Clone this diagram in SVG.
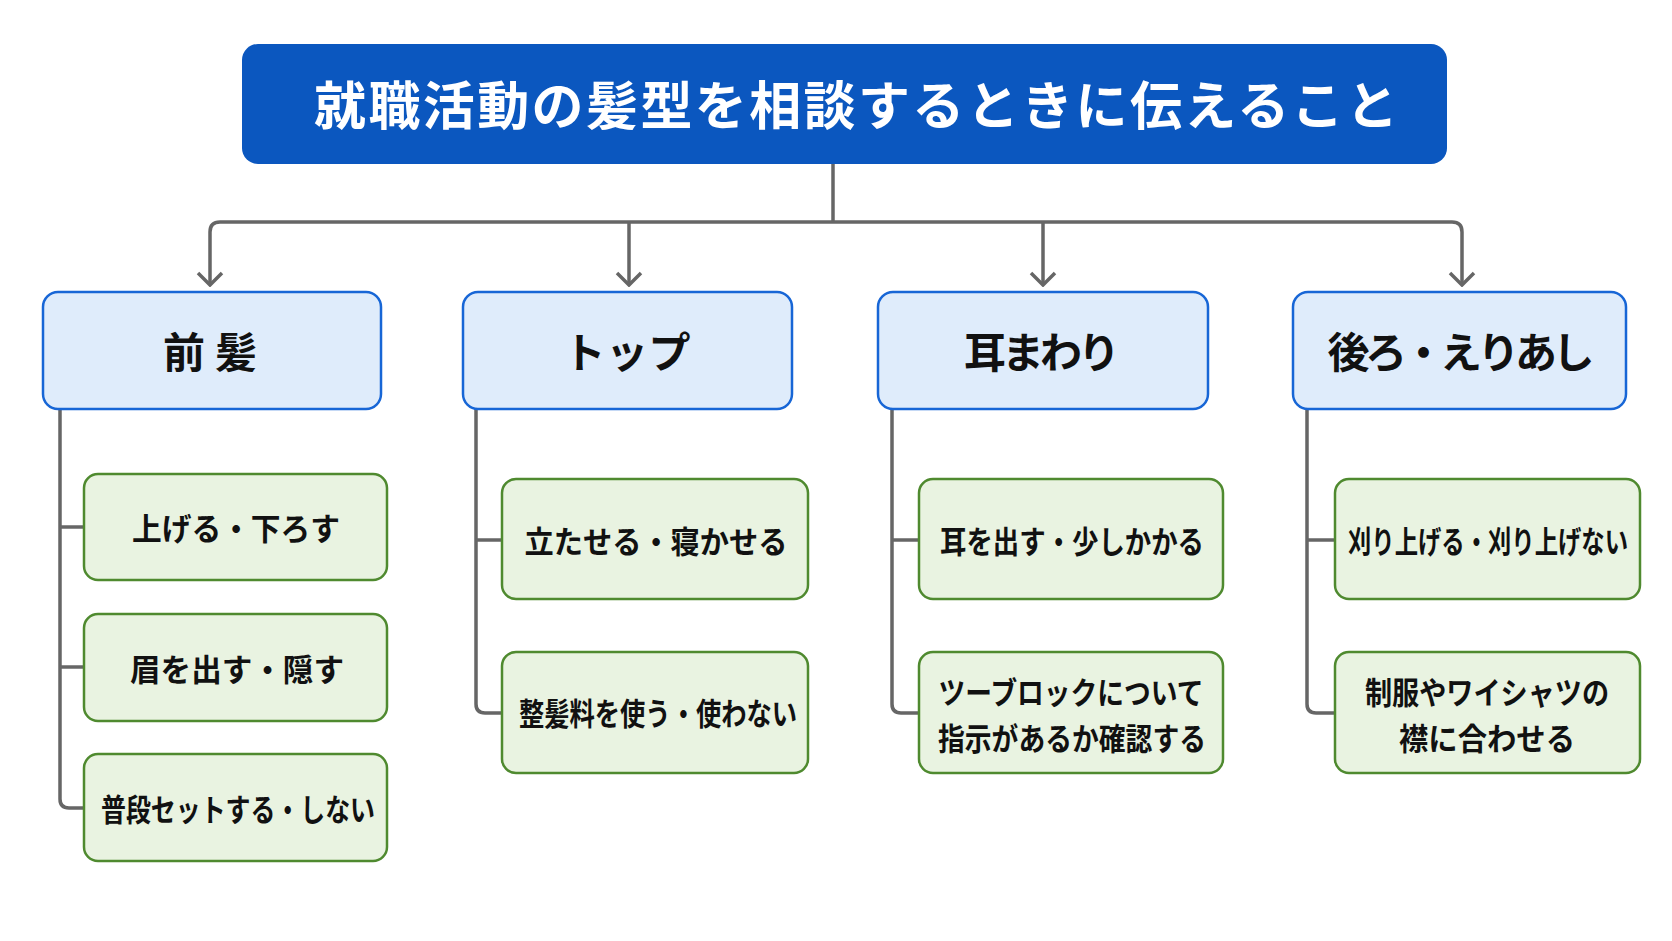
<svg xmlns="http://www.w3.org/2000/svg" width="1672" height="941" viewBox="0 0 1672 941">
<defs>
<style>
.title-box{fill:#0b57bf;}
.head-box{fill:#dfecfb;stroke:#1766d6;stroke-width:2.5;}
.item-box{fill:#e9f3e1;stroke:#4f8a2f;stroke-width:2.5;}
.conn{fill:none;stroke:#666666;stroke-width:3.5;stroke-linejoin:round;}
.t{font-family:"Noto Sans CJK JP","Noto Sans CJK SC",sans-serif;font-weight:700;text-anchor:middle;dominant-baseline:central;}
.title{fill:#ffffff;font-size:52px;}
.head{fill:#111111;font-size:42px;}
.item{fill:#111111;font-size:31px;}
</style>
<marker id="arr" viewBox="-2 -14 16 28" markerWidth="16" markerHeight="28" refX="12" refY="0" orient="auto" markerUnits="userSpaceOnUse">
<path d="M0,-12 L12,0 L0,12" fill="none" stroke="#666666" stroke-width="3.5" stroke-linejoin="miter"/>
</marker>
</defs>
<rect width="1672" height="941" fill="#ffffff"/>

<g id="connectors">
<path class="conn" d="M833,163 V222"/>
<path class="conn" d="M833,222 H220 Q210,222 210,232 V285" marker-end="url(#arr)"/>
<path class="conn" d="M833,222 H1452 Q1462,222 1462,232 V285" marker-end="url(#arr)"/>
<path class="conn" d="M629,222 V285" marker-end="url(#arr)"/>
<path class="conn" d="M1043,222 V285" marker-end="url(#arr)"/>
<path class="conn" d="M60,409 V799 Q60,808 69,808 H84"/>
<path class="conn" d="M60,527 H84"/>
<path class="conn" d="M60,667 H84"/>
<path class="conn" d="M476,409 V704 Q476,713 485,713 H502"/>
<path class="conn" d="M476,540 H502"/>
<path class="conn" d="M892,409 V704 Q892,713 901,713 H919"/>
<path class="conn" d="M892,540 H919"/>
<path class="conn" d="M1307,409 V704 Q1307,713 1316,713 H1335"/>
<path class="conn" d="M1307,540 H1335"/>
</g>

<g id="title">
<rect class="title-box" x="242" y="44" width="1205" height="120" rx="16"/>
<text class="t title" x="856" y="102" textLength="1084" lengthAdjust="spacing">就職活動の髪型を相談するときに伝えること</text>
</g>

<g id="head-maegami">
<rect class="head-box" x="43" y="292" width="338" height="117" rx="15"/>
<text class="t head" x="210" y="349" textLength="94" lengthAdjust="spacing">前髪</text>
</g>
<g id="head-top">
<rect class="head-box" x="463" y="292" width="329" height="117" rx="15"/>
<text class="t head" x="627" y="349" textLength="127" lengthAdjust="spacing">トップ</text>
</g>
<g id="head-mimi">
<rect class="head-box" x="878" y="292" width="330" height="117" rx="15"/>
<text class="t head" x="1042" y="349" textLength="156" lengthAdjust="spacing">耳まわり</text>
</g>
<g id="head-ushiro">
<rect class="head-box" x="1293" y="292" width="333" height="117" rx="15"/>
<text class="t head" x="1461" y="349" textLength="267" lengthAdjust="spacing">後ろ・えりあし</text>
</g>

<g id="item-1-1">
<rect class="item-box" x="84" y="474" width="303" height="106" rx="14"/>
<text class="t item" x="236" y="526" textLength="208" lengthAdjust="spacingAndGlyphs">上げる・下ろす</text>
</g>
<g id="item-1-2">
<rect class="item-box" x="84" y="614" width="303" height="107" rx="14"/>
<text class="t item" x="237" y="667" textLength="214" lengthAdjust="spacingAndGlyphs">眉を出す・隠す</text>
</g>
<g id="item-1-3">
<rect class="item-box" x="84" y="754" width="303" height="107" rx="14"/>
<text class="t item" x="238" y="807" textLength="274" lengthAdjust="spacingAndGlyphs">普段セットする・しない</text>
</g>

<g id="item-2-1">
<rect class="item-box" x="502" y="479" width="306" height="120" rx="14"/>
<text class="t item" x="656" y="539" textLength="263" lengthAdjust="spacingAndGlyphs">立たせる・寝かせる</text>
</g>
<g id="item-2-2">
<rect class="item-box" x="502" y="652" width="306" height="121" rx="14"/>
<text class="t item" x="658" y="711" textLength="278" lengthAdjust="spacingAndGlyphs">整髪料を使う・使わない</text>
</g>

<g id="item-3-1">
<rect class="item-box" x="919" y="479" width="304" height="120" rx="14"/>
<text class="t item" x="1072" y="539" textLength="264" lengthAdjust="spacingAndGlyphs">耳を出す・少しかかる</text>
</g>
<g id="item-3-2">
<rect class="item-box" x="919" y="652" width="304" height="121" rx="14"/>
<text class="t item" x="1071" y="690" textLength="265" lengthAdjust="spacingAndGlyphs">ツーブロックについて</text>
<text class="t item" x="1072" y="736" textLength="268" lengthAdjust="spacingAndGlyphs">指示があるか確認する</text>
</g>

<g id="item-4-1">
<rect class="item-box" x="1335" y="479" width="305" height="120" rx="14"/>
<text class="t item" x="1488" y="539" textLength="280" lengthAdjust="spacingAndGlyphs">刈り上げる・刈り上げない</text>
</g>
<g id="item-4-2">
<rect class="item-box" x="1335" y="652" width="305" height="121" rx="14"/>
<text class="t item" x="1487" y="690" textLength="244" lengthAdjust="spacingAndGlyphs">制服やワイシャツの</text>
<text class="t item" x="1487" y="736" textLength="176" lengthAdjust="spacingAndGlyphs">襟に合わせる</text>
</g>
</svg>
